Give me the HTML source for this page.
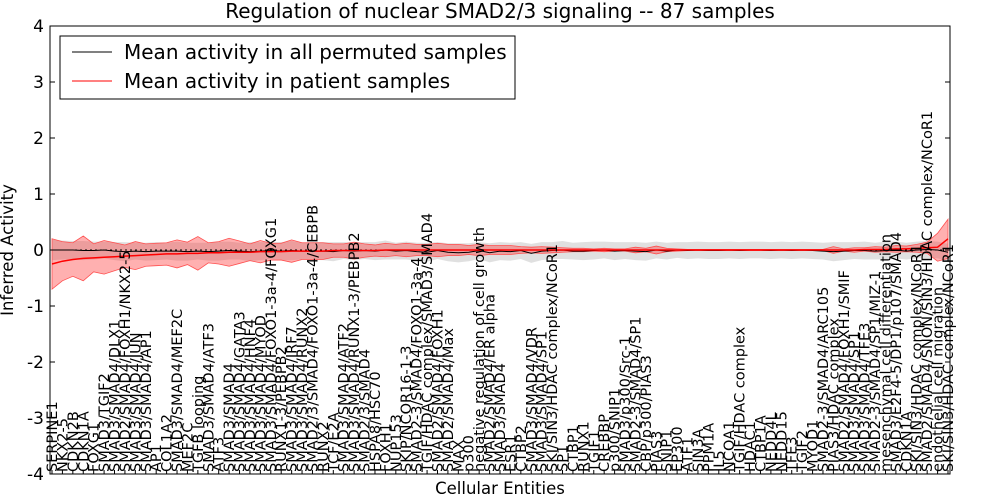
<!DOCTYPE html>
<html><head><meta charset="utf-8"><style>
body{margin:0;background:#fff;}
svg{display:block;font-family:"DejaVu Sans","Liberation Sans",sans-serif;}
</style></head><body>
<svg id="chart" width="1000" height="500">
<text x="500" y="18" text-anchor="middle" font-size="20">Regulation of nuclear SMAD2/3 signaling -- 87 samples</text>
<text x="500" y="494" text-anchor="middle" font-size="16.5">Cellular Entities</text>
<text transform="translate(13,250) rotate(-90)" text-anchor="middle" font-size="16.5">Inferred Activity</text>
<g id="plot"></g>
</svg>
<script>
const labels=["SERPINE1","NKX2-5","CDKN2B","CDKN1A","FOXG1","SMAD3/TGIF2","SMAD3/SMAD4/DLX1","SMAD2/SMAD4/FOXH1/NKX2-5","SMAD3/SMAD4/JUN","SMAD3/SMAD4/AP1","AP1","COL1A2","SMAD3/SMAD4/MEF2C","MEF2C","TGFB looping","SMAD3/SMAD4/ATF3","ATF3","SMAD3/SMAD4","SMAD3/SMAD4/GATA3","SMAD3/SMAD4/HNF4","SMAD3/SMAD4/MYOD","SMAD3/SMAD4/FOXO1-3a-4/FOXG1","RUNX1-3/PEBPB2","SMAD3/SMAD4/IRF7","SMAD3/SMAD4/RUNX2","SMAD2/3/SMAD4/FOXO1-3a-4/CEBPB","RUNX2","TCF/E2A","SMAD3/SMAD4/ATF2","SMAD3/SMAD4/RUNX1-3/PEBPB2","SMAD2/3/SMAD4","HSPA8/HSC70","FOXH1","NUP153","SKIP/NCOR16-1-3","SMAD2-3/SMAD4/FOXO1-3a-4","TGIF/HDAC complex/SMAD3/SMAD4","SMAD2/SMAD4/FOXH1","SMAD2/SMAD4/Max","MAX","p300","negative regulation of cell growth","SMAD2/SMAD4/ER alpha","SMAD3/SMAD4","ESR1","CTBP2","SMAD3/SMAD4/VDR","SMAD3/SMAD4/SP1","SKI/SIN3/HDAC complex/NCoR1","SP1","CTBP1","RUNX1","TGIF1","CREBBP","p300/SNIP1","SMAD3/p300/Src-1","SMAD2-3/SMAD4/SP1","CBP/p300/PIAS3","PIAS3","SNIP1","EP300","ATF1","SIN3A","PPM1A","IL5","NCOA1","TGIF/HDAC complex","HDAC1","CTBP1A","NEDD4L","NEDD15","TFE3","TGIF2","MYOD1","SMAD2-3/SMAD4/ARC105","PIAS3/HDAC complex","SMAD2/SMAD4/FOXH1/SMIF","SMAD3/SMAD4/SP1","SMAD3/SMAD4/TFE3","SMAD2-3/SMAD4/SP1/MIZ-1","mesenchymal cell differentiation","SMAD3/E2F4-5/DP1/p107/SMAD4","CDKN1A","SKI/SIN3/HDAC complex/NCoR1","SMAD2/SMAD4/SNON/SIN3/HDAC complex/NCoR1","endothelial cell migration","SKI/SIN3/HDAC complex/NCoR1 "];
const redMean=[-0.25,-0.2,-0.17,-0.15,-0.14,-0.13,-0.12,-0.11,-0.1,-0.09,-0.08,-0.07,-0.07,-0.06,-0.06,-0.05,-0.05,-0.04,-0.04,-0.04,-0.03,-0.03,-0.03,-0.02,-0.02,-0.02,-0.02,-0.01,-0.01,-0.01,-0.01,-0.01,0,0,0,0,0,0,0,0,0,0,0,0,0,0,0,0,0,0,0,0,0,0,0,0,0,0,0,0,0,0,0,0,0,0,0,0,0,0,0,0,0,0,0,0,0,0,0.01,0.01,0.01,0.02,0.02,0.03,0.04,0.05,0.2];
const redSpread=[0.45,0.35,0.3,0.4,0.25,0.3,0.25,0.2,0.25,0.2,0.2,0.2,0.25,0.2,0.3,0.18,0.2,0.25,0.2,0.15,0.2,0.15,0.15,0.2,0.15,0.15,0.15,0.12,0.12,0.15,0.12,0.1,0.12,0.1,0.12,0.1,0.1,0.12,0.1,0.1,0.08,0.1,0.08,0.08,0.08,0.06,0.05,0.06,0.05,0.04,0.03,0.03,0.02,0.03,0.02,0.02,0.05,0.03,0.07,0.03,0.02,0.01,0.01,0.01,0.01,0.01,0.01,0.01,0.01,0.01,0.01,0.01,0.01,0.01,0.01,0.06,0.02,0.04,0.03,0.05,0.04,0.06,0.05,0.07,0.1,0.25,0.35];
const blackMean=[0,0,0,-0.01,-0.01,0,-0.02,-0.03,-0.02,-0.03,-0.02,-0.02,-0.02,-0.03,-0.02,-0.03,-0.02,-0.01,-0.02,-0.03,-0.02,-0.01,-0.02,-0.01,-0.02,-0.02,-0.02,-0.03,-0.01,-0.02,-0.01,-0.02,0,-0.02,-0.01,-0.03,-0.04,-0.01,-0.04,-0.05,-0.04,-0.01,-0.05,-0.02,-0.03,-0.01,-0.06,-0.02,-0.01,0,-0.02,-0.02,-0.01,0,-0.02,-0.01,-0.02,-0.03,0,-0.02,0,-0.01,0,-0.01,-0.01,0,-0.01,0,0,-0.01,0,-0.01,0,-0.01,-0.02,-0.03,-0.02,-0.01,-0.01,-0.02,-0.01,0,-0.02,0,0.01,0,-0.04];
const grayBand=[0.18,0.17,0.16,0.17,0.16,0.15,0.16,0.17,0.15,0.16,0.16,0.15,0.17,0.16,0.15,0.16,0.17,0.16,0.15,0.17,0.16,0.15,0.16,0.17,0.15,0.16,0.16,0.17,0.15,0.16,0.15,0.16,0.17,0.15,0.16,0.16,0.17,0.15,0.16,0.17,0.16,0.15,0.17,0.16,0.16,0.15,0.17,0.16,0.15,0.16,0.15,0.16,0.16,0.15,0.16,0.15,0.16,0.16,0.15,0.15,0.14,0.15,0.15,0.15,0.15,0.15,0.15,0.15,0.15,0.15,0.15,0.15,0.15,0.15,0.15,0.17,0.16,0.15,0.16,0.15,0.16,0.15,0.15,0.15,0.15,0.15,0.15];
const yTicks=[-4,-3,-2,-1,0,1,2,3,4];

const L=50,R=950,T=26,B=474;
const n=labels.length;
const xs=i=>L+2+i*(R-L-4)/(n-1);
const ys=v=>T+(4-v)*(B-T)/8;
const ns="http://www.w3.org/2000/svg";
const g=document.getElementById('plot');
function mk(tag,attrs){const e=document.createElementNS(ns,tag);for(const k in attrs)e.setAttribute(k,attrs[k]);g.appendChild(e);return e;}
function band(lo,hi){let d='';for(let i=0;i<n;i++)d+=(i?'L':'M')+xs(i)+','+ys(hi[i]);for(let i=n-1;i>=0;i--)d+='L'+xs(i)+','+ys(lo[i]);return d+'Z';}
const gb=mk('path',{d:band(blackMean.map((v,i)=>v-grayBand[i]),blackMean.map((v,i)=>v+grayBand[i])),fill:'#bbbbbb','fill-opacity':0.45,stroke:'none'});


const rb=mk('path',{d:band(redMean.map((v,i)=>v-redSpread[i]),redMean.map((v,i)=>v+redSpread[i])),fill:'#ff3030','fill-opacity':0.38,stroke:'#ff5050','stroke-width':0.8});


const zl=mk('line',{x1:L,x2:R,y1:ys(0),y2:ys(0),stroke:'#000','stroke-dasharray':'2,3','stroke-width':1});


const bl=mk('polyline',{points:blackMean.map((v,i)=>xs(i)+','+ys(v)).join(' '),fill:'none',stroke:'#000','stroke-width':1});


const rl=mk('polyline',{points:redMean.map((v,i)=>xs(i)+','+ys(v)).join(' '),fill:'none',stroke:'#ff0000','stroke-width':1.5});


labels.forEach((s,i)=>{
  const t=mk('text',{transform:`translate(${xs(i)+5},${B-2}) rotate(-90)`,'font-size':14.5});
  t.textContent=s;
  
  
  const tk=mk('line',{x1:xs(i),x2:xs(i),y1:B,y2:B-4,stroke:'#000'});
  
  
});
yTicks.forEach(v=>{
  const t=mk('text',{x:L-6,y:ys(v)+6,'text-anchor':'end','font-size':17});
  t.textContent=v;
  
  
  const a=mk('line',{x1:L,x2:L+5,y1:ys(v),y2:ys(v),stroke:'#000'});
  
  
  const b=mk('line',{x1:R,x2:R-5,y1:ys(v),y2:ys(v),stroke:'#000'});
  
  
});
const fr=mk('rect',{x:L,y:T,width:R-L,height:B-T,fill:'none',stroke:'#000','stroke-width':1});


const lg=mk('rect',{x:60,y:36,width:455,height:63,fill:'#fff',stroke:'#000'});


const l1=mk('line',{x1:72,x2:112,y1:52,y2:52,stroke:'#000'});


const l2=mk('line',{x1:72,x2:112,y1:81,y2:81,stroke:'#f00'});


const t1=mk('text',{x:124,y:59,'font-size':20});t1.textContent='Mean activity in all permuted samples';


const t2=mk('text',{x:124,y:88,'font-size':20});t2.textContent='Mean activity in patient samples';


</script>
</body></html>
